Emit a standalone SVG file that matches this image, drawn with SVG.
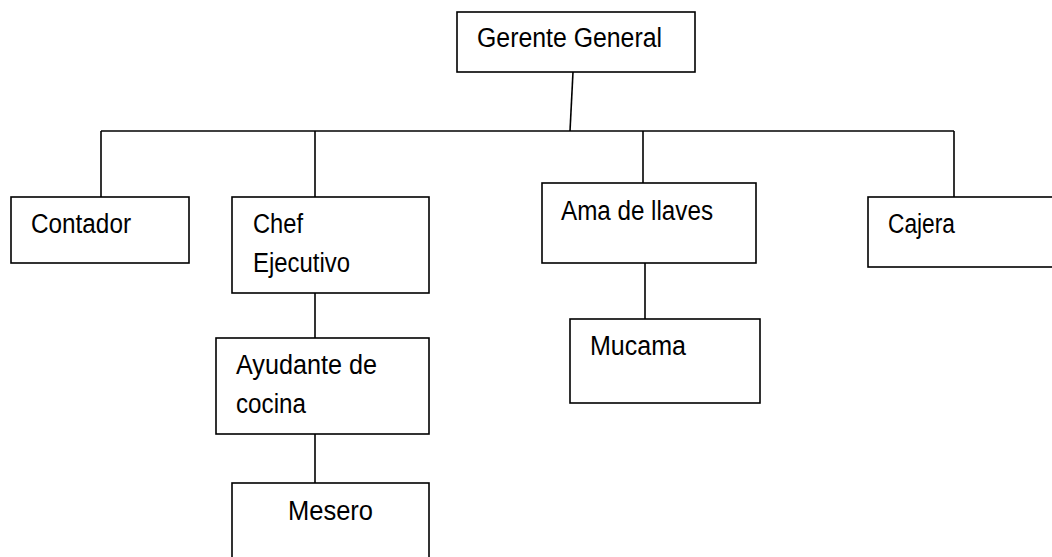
<svg xmlns="http://www.w3.org/2000/svg" width="1052" height="557" viewBox="0 0 1052 557">
<style>
.box{fill:#fff;stroke:#000;stroke-width:1.6}
.lbl{font-family:"Liberation Sans",Arial,sans-serif;font-size:27px;fill:#000}
.con{fill:none;stroke:#000;stroke-width:1.6}
</style>
<rect width="1052" height="557" fill="#fff"/>
<g id="connectors">
<path class="con" d="M573 72 L570 131"/>
<path class="con" d="M101 131 H954"/>
<path class="con" d="M101 131 V197"/>
<path class="con" d="M315 131 V197"/>
<path class="con" d="M643 131 V183"/>
<path class="con" d="M954 131 V197"/>
<path class="con" d="M315 293 V338"/>
<path class="con" d="M315 434 V483"/>
<path class="con" d="M645 263 V319"/>
</g>
<g id="gerente"><rect class="box" x="457" y="12" width="238" height="60"/><text class="lbl" x="477" y="47" textLength="185" lengthAdjust="spacingAndGlyphs">Gerente General</text></g>
<g id="contador"><rect class="box" x="11" y="197" width="178" height="66"/><text class="lbl" x="31" y="233" textLength="100" lengthAdjust="spacingAndGlyphs">Contador</text></g>
<g id="chef"><rect class="box" x="232" y="197" width="197" height="96"/><text class="lbl" x="253" y="233" textLength="50" lengthAdjust="spacingAndGlyphs">Chef</text><text class="lbl" x="253" y="272" textLength="97" lengthAdjust="spacingAndGlyphs">Ejecutivo</text></g>
<g id="ayudante"><rect class="box" x="216" y="338" width="213" height="96"/><text class="lbl" x="236" y="374" textLength="141" lengthAdjust="spacingAndGlyphs">Ayudante de</text><text class="lbl" x="236" y="413" textLength="70" lengthAdjust="spacingAndGlyphs">cocina</text></g>
<g id="mesero"><rect class="box" x="232" y="483" width="197" height="90"/><text class="lbl" x="288" y="520" textLength="85" lengthAdjust="spacingAndGlyphs">Mesero</text></g>
<g id="ama"><rect class="box" x="542" y="183" width="214" height="80"/><text class="lbl" x="561" y="220" textLength="152" lengthAdjust="spacingAndGlyphs">Ama de llaves</text></g>
<g id="mucama"><rect class="box" x="570" y="319" width="190" height="84"/><text class="lbl" x="590" y="355" textLength="96" lengthAdjust="spacingAndGlyphs">Mucama</text></g>
<g id="cajera"><rect class="box" x="868" y="197" width="200" height="70"/><text class="lbl" x="888" y="233" textLength="67" lengthAdjust="spacingAndGlyphs">Cajera</text></g>
</svg>
